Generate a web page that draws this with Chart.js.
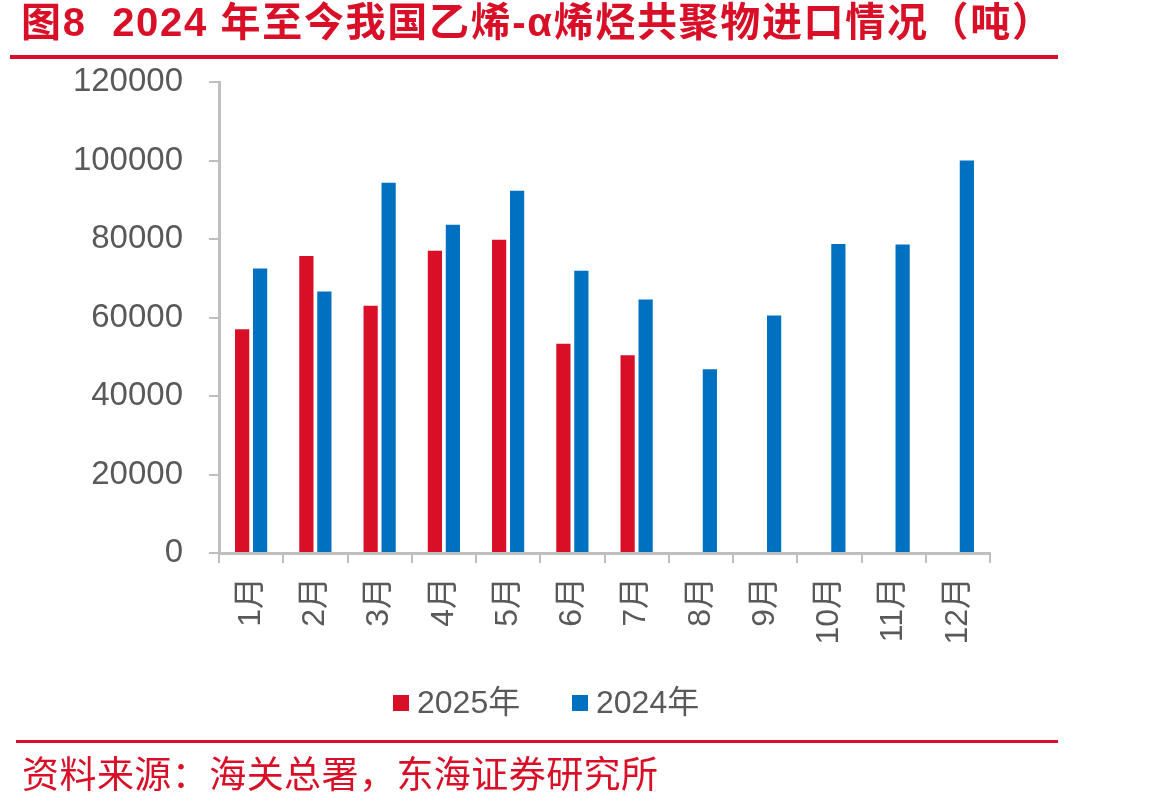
<!DOCTYPE html>
<html>
<head>
<meta charset="utf-8">
<script src="https://cdn.jsdelivr.net/npm/chart.js@4"></script>
<style>
  html, body { margin: 0; padding: 0; background: #fff; }
  #wrap { width: 1156px; height: 805px; position: relative; }
</style>
</head>
<body>
<div id="wrap"><canvas id="myChart" width="1156" height="805"></canvas></div>
<script>
const months = ["1月", "2月", "3月", "4月", "5月", "6月", "7月", "8月", "9月", "10月", "11月", "12月"];
const imports2025 = [57000, 75700, 63000, 77000, 79800, 53300, 50400];
const imports2024 = [72500, 66600, 94300, 83600, 92300, 71900, 64600, 46800, 60500, 78700, 78600, 100000];
const yTicks = [0, 20000, 40000, 60000, 80000, 100000, 120000];

const titleText = "图8  2024 年至今我国乙烯-α烯烃共聚物进口情况（吨）";
const sourceText = "资料来源：海关总署，东海证券研究所";

const RED = "#d90f28";
const BLUE = "#0070c0";
const GRAY_AX = "#bfbfbf";
const GRAY_TXT = "#595959";
const FONT = '"Liberation Sans", "Noto Sans CJK SC", sans-serif';

// spread text so it spans the same width as in the picture
function fitText(ctx, text, x, y, width) {
  ctx.letterSpacing = "0px";
  const w = ctx.measureText(text).width;
  const n = [...text].length;
  ctx.letterSpacing = ((width - w) / (n - 1)).toFixed(2) + "px";
  ctx.fillText(text, x, y);
  ctx.letterSpacing = "0px";
}

// title, lines, source and legend drawn on the same canvas
const decor = {
  id: "decor",
  afterDraw(chart) {
    const ctx = chart.ctx;
    ctx.save();
    // title
    ctx.fillStyle = RED;
    ctx.textBaseline = "middle";
    ctx.textAlign = "left";
    ctx.font = 'bold 40px "Liberation Sans", "Noto Sans CJK SC", sans-serif';
    fitText(ctx, titleText, 21, 25, 1031);
    // red rules
    ctx.fillRect(10, 55, 1048, 4);
    ctx.fillRect(16, 740, 1042, 3);
    // source
    ctx.font = '37px "Noto Sans CJK SC", sans-serif';
    fitText(ctx, sourceText, 22, 774, 636);

    // legend
    ctx.font = "32px " + FONT;
    const starts = [393, 572];
    chart.data.datasets.forEach((ds, i) => {
      const x = starts[i];
      ctx.fillStyle = ds.backgroundColor;
      ctx.fillRect(x, 695, 16, 16);
      ctx.fillStyle = GRAY_TXT;
      ctx.fillText(ds.label, x + 24, 704);
    });
    ctx.restore();
  }
};

const ctx = document.getElementById("myChart").getContext("2d");
const myChart = new Chart(ctx, {
  type: "bar",
  data: {
    labels: months,
    datasets: [
      {
        label: "2025年",
        data: imports2025,
        backgroundColor: RED,
        categoryPercentage: 0.56,
        barPercentage: 0.79,
      },
      {
        label: "2024年",
        data: imports2024,
        backgroundColor: BLUE,
        categoryPercentage: 0.56,
        barPercentage: 0.79,
      },
    ],
  },
  options: {
    responsive: false,
    animation: false,
    layout: {
      padding: { left: 0, top: 82, right: 166, bottom: 0 },
    },
    plugins: {
      legend: { display: false },
      tooltip: { enabled: false },
    },
    scales: {
      x: {
        border: { color: GRAY_AX, width: 3 },
        grid: {
          drawOnChartArea: false,
          drawTicks: true,
          tickLength: 10,
          color: GRAY_AX,
          lineWidth: 2,
        },
        ticks: {
          minRotation: 90,
          maxRotation: 90,
          padding: 14,
          color: GRAY_TXT,
          font: { family: FONT, size: 32 },
        },
        afterFit: (s) => { s.height = 805 - 553; },
      },
      y: {
        min: 0,
        max: 120000,
        border: { color: GRAY_AX, width: 3 },
        grid: {
          drawOnChartArea: false,
          drawTicks: true,
          tickLength: 10,
          color: GRAY_AX,
          lineWidth: 2,
        },
        afterBuildTicks: (s) => { s.ticks = yTicks.map(v => ({ value: v })); },
        ticks: {
          padding: 26,
          color: GRAY_TXT,
          font: { family: FONT, size: 33 },
          callback: (v) => String(v),
        },
        afterFit: (s) => { s.width = 219; },
      },
    },
  },
  plugins: [decor],
});
</script>
</body>
</html>
